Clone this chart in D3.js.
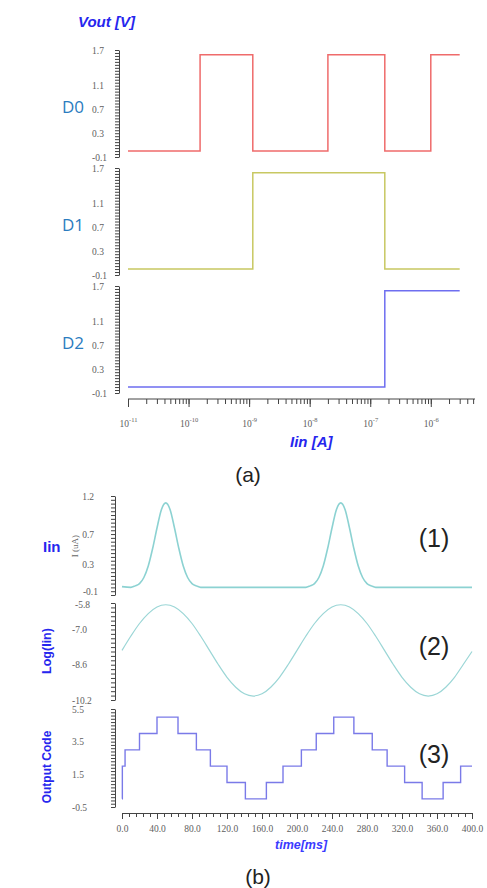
<!DOCTYPE html>
<html>
<head>
<meta charset="utf-8">
<script src="https://cdn.jsdelivr.net/npm/d3@7"></script>
<style>
  body { margin: 0; background: #fff; overflow: hidden; }
  .tick line, .domain { stroke: #444; }
  .tick text { font-family: 'Liberation Serif', serif; font-size: 9.5px; fill: #5e5e5e; }
  .blue-label { font-family: 'Liberation Sans', sans-serif; font-weight: bold; fill: #2626ee; }
  .bit-label { font-family: 'Open Sans', sans-serif; font-size: 17px; fill: #2a7cc0; }
  .caption { font-family: 'Liberation Sans', sans-serif; fill: #222; }
</style>
</head>
<body>
<svg id="chart" width="487" height="888"></svg>
<script>
(function () {
  'use strict';

  // ---- (a) output bits against the input current sweep ----
  // current at each switching point, last one is the end of the sweep
  const sweepCurrent = [1e-11, 1.55e-10, 1.15e-9, 2.0e-8, 1.74e-7, 1.0e-6, 3.0e-6];
  const bitD0 = [0, 1.62, 0, 1.62, 0, 1.62, 1.62];
  const bitD1 = [0, 0, 1.62, 1.62, 0, 0, 0];
  const bitD2 = [0, 0, 0, 0, 1.62, 1.62, 1.62];
  const bitNames = ['D0', 'D1', 'D2'];
  const voltTicks = [1.7, 1.1, 0.7, 0.3, -0.1];
  const decadeExp = [-11, -10, -9, -8, -7, -6];

  // ---- (b) transient, time in ms ----
  const iinTime = [0, 10, 15, 20, 25, 30, 35, 40, 45, 50, 55, 60, 65, 70, 75, 80, 85, 90,
    210, 215, 220, 225, 230, 235, 240, 245, 250, 255, 260, 265, 270, 275, 280, 285, 290, 400];
  const iinValue = [0.01, 0.0, 0.02, 0.05, 0.13, 0.28, 0.51, 0.78, 1.02, 1.11, 1.02, 0.78, 0.51, 0.28, 0.13, 0.05, 0.02, 0.0,
    0.0, 0.02, 0.05, 0.13, 0.28, 0.51, 0.78, 1.02, 1.11, 1.02, 0.78, 0.51, 0.28, 0.13, 0.05, 0.02, 0.0, 0.0];
  const logTime = [0, 10, 20, 30, 40, 50, 60, 70, 80, 90, 100, 110, 120, 130, 140, 150, 160, 170, 180, 190, 200,
    210, 220, 230, 240, 250, 260, 270, 280, 290, 300, 310, 320, 330, 340, 350, 360, 370, 380, 390, 400];
  const logValue = [-7.95, -7.31, -6.73, -6.28, -5.98, -5.88, -5.98, -6.28, -6.73, -7.31, -7.95,
    -8.59, -9.17, -9.62, -9.92, -10.02, -9.92, -9.62, -9.17, -8.59, -7.95,
    -7.31, -6.73, -6.28, -5.98, -5.88, -5.98, -6.28, -6.73, -7.31, -7.95,
    -8.59, -9.17, -9.62, -9.92, -10.02, -9.92, -9.62, -9.17, -8.59, -8.0];
  const codeTime = [0, 0.4, 3.5, 20, 40, 64, 85, 101, 120, 141, 165, 184, 205, 222, 242, 265, 286, 303, 323, 343, 367, 387, 400];
  const codeValue = [0, 2, 3, 4, 5, 4, 3, 2, 1, 0, 1, 2, 3, 4, 5, 4, 3, 2, 1, 0, 1, 2, 2];
  const iinTicks = [1.2, 0.7, 0.3, -0.1];
  const logTicks = [-5.8, -7.0, -8.6, -10.2];
  const codeTicks = [5.5, 3.5, 1.5, -0.5];
  const timeTicks = [0, 40, 80, 120, 160, 200, 240, 280, 320, 360, 400];

  // plain hyphen minus like the original plot
  const fmt1 = (d) => d.toFixed(1);

  const svg = d3.select('#chart');
  svg.append('rect').attr('width', 487).attr('height', 888).attr('fill', '#fff');

  // ================= (a) =================
  const xCur = d3.scaleLog().domain([1e-11, 5.37e-6]).range([128, 475]);
  const bitSeries = [bitD0, bitD1, bitD2];
  const bitColors = ['#ef6b6b', '#c8c862', '#6e6ef0'];
  const bitTops = [50, 168, 286];

  svg.append('text')
    .attr('class', 'blue-label')
    .attr('x', 78).attr('y', 27)
    .style('font-size', '15px').style('font-style', 'italic')
    .text('Vout [V]');

  bitSeries.forEach((values, i) => {
    const top = bitTops[i];
    const y = d3.scaleLinear().domain([-0.1, 1.7]).range([top + 107, top]);

    // ruler style minor ticks
    svg.append('g')
      .attr('transform', 'translate(119,0)')
      .call(d3.axisLeft(y).tickValues(d3.range(-0.1, 1.7001, 0.05)).tickSize(4).tickSizeOuter(0).tickFormat(''));

    const gl = svg.append('g')
      .attr('transform', 'translate(119,0)')
      .call(d3.axisLeft(y).tickValues(voltTicks).tickSize(0).tickFormat(fmt1));
    gl.select('.domain').remove();
    gl.selectAll('text').attr('text-anchor', 'start').attr('x', -27);

    const pts = sweepCurrent.map((c, k) => [c, values[k]]);
    const line = d3.line()
      .x((d) => xCur(d[0]))
      .y((d) => y(d[1]))
      .curve(d3.curveStepAfter);
    svg.append('path')
      .datum(pts)
      .attr('d', line)
      .attr('fill', 'none')
      .attr('stroke', bitColors[i])
      .attr('stroke-width', 1.5);

    svg.append('text')
      .attr('class', 'bit-label')
      .attr('x', 62).attr('y', top + 63)
      .text(bitNames[i]);
  });

  // log current axis
  const gMinor = svg.append('g')
    .attr('transform', 'translate(0,399)')
    .call(d3.axisBottom(xCur).tickValues(xCur.ticks()).tickSize(5).tickSizeOuter(0).tickFormat(''));
  gMinor.select('.domain').attr('d', 'M128,0H475');

  const gMajor = svg.append('g')
    .attr('transform', 'translate(0,399)')
    .call(d3.axisBottom(xCur).tickValues(decadeExp.map((e) => Math.pow(10, e))).tickSize(8).tickSizeOuter(0).tickFormat(''));
  gMajor.select('.domain').remove();
  gMajor.selectAll('.tick').each(function (d, i) {
    const t = d3.select(this).append('text')
      .attr('y', 28).attr('text-anchor', 'middle');
    t.append('tspan').text('10');
    t.append('tspan').attr('dy', -5).style('font-size', '6.5px').text(decadeExp[i]);
  });

  svg.append('text')
    .attr('class', 'blue-label')
    .attr('x', 290).attr('y', 447)
    .style('font-size', '15px').style('font-style', 'italic')
    .text('Iin [A]');

  svg.append('text')
    .attr('class', 'caption')
    .attr('x', 248).attr('y', 482)
    .attr('text-anchor', 'middle')
    .style('font-size', '21px')
    .text('(a)');

  // ================= (b) =================
  const xTime = d3.scaleLinear().domain([0, 400]).range([122, 472]);
  const yIin = d3.scaleLinear().domain([-0.1, 1.2]).range([595, 496]);
  const yLog = d3.scaleLinear().domain([-10.2, -5.8]).range([700, 603]);
  const yCode = d3.scaleLinear().domain([-0.5, 5.5]).range([807, 709]);

  const drawAxis = (y, step, labels, labelX, anchor) => {
    const d = y.domain();
    svg.append('g')
      .attr('transform', 'translate(115,0)')
      .call(d3.axisLeft(y).tickValues(d3.range(d[0], d[1] + 1e-6, step)).tickSize(4).tickSizeOuter(0).tickFormat(''));
    const g = svg.append('g')
      .attr('transform', 'translate(115,0)')
      .call(d3.axisLeft(y).tickValues(labels).tickSize(0).tickFormat(fmt1));
    g.select('.domain').remove();
    g.selectAll('text').attr('text-anchor', anchor).attr('x', labelX);
    return g;
  };
  const gIin = drawAxis(yIin, 0.05, iinTicks, -21, 'end');
  const gLog = drawAxis(yLog, 0.2, logTicks, -43, 'start');
  drawAxis(yCode, 0.2, codeTicks, -43, 'start');

  // the bottom label of (1) sits up and right, the top one of (2) a bit lower, as in the plot
  gIin.selectAll('.tick').filter((d) => d === -0.1).select('text').attr('x', -17).attr('dy', '-0.05em');
  gLog.selectAll('.tick').filter((d) => d === -5.8).select('text').attr('x', -40).attr('dy', '0.45em');

  svg.append('path')
    .datum(iinTime.map((t, k) => [t, iinValue[k]]))
    .attr('d', d3.line().x((d) => xTime(d[0])).y((d) => yIin(d[1])).curve(d3.curveMonotoneX))
    .attr('fill', 'none').attr('stroke', '#8cd2d2').attr('stroke-width', 1.6);

  svg.append('path')
    .datum(logTime.map((t, k) => [t, logValue[k]]))
    .attr('d', d3.line().x((d) => xTime(d[0])).y((d) => yLog(d[1])).curve(d3.curveMonotoneX))
    .attr('fill', 'none').attr('stroke', '#9bd6d6').attr('stroke-width', 1.2);

  svg.append('path')
    .datum(codeTime.map((t, k) => [t, codeValue[k]]))
    .attr('d', d3.line().x((d) => xTime(d[0])).y((d) => yCode(d[1])).curve(d3.curveStepAfter))
    .attr('fill', 'none').attr('stroke', '#7a7ae8').attr('stroke-width', 1.4);

  // time axis
  svg.append('g')
    .attr('transform', 'translate(0,813)')
    .call(d3.axisBottom(xTime).tickValues(d3.range(0, 401, 8)).tickSize(4).tickSizeOuter(0).tickFormat(''));
  svg.append('g')
    .attr('transform', 'translate(0,813)')
    .call(d3.axisBottom(xTime).tickValues(timeTicks).tickSize(6).tickSizeOuter(0).tickPadding(6).tickFormat(fmt1))
    .select('.domain').remove();

  svg.append('text')
    .attr('class', 'blue-label')
    .attr('x', 275).attr('y', 849)
    .style('font-size', '12.5px').style('font-style', 'italic').style('fill', '#3a3aff')
    .text('time[ms]');

  // side labels
  svg.append('text')
    .attr('class', 'blue-label')
    .attr('x', 43).attr('y', 552)
    .style('font-size', '15px')
    .text('Iin');
  svg.append('text')
    .attr('transform', 'translate(78,546) rotate(-90)')
    .attr('text-anchor', 'middle')
    .style('font-family', "'Liberation Serif', serif").style('font-size', '9px').style('fill', '#666')
    .text('I (uA)');
  svg.append('text')
    .attr('class', 'blue-label')
    .attr('transform', 'translate(51,651) rotate(-90)')
    .attr('text-anchor', 'middle')
    .style('font-size', '12.5px')
    .text('Log(Iin)');
  svg.append('text')
    .attr('class', 'blue-label')
    .attr('transform', 'translate(51,767) rotate(-90)')
    .attr('text-anchor', 'middle')
    .style('font-size', '12px')
    .text('Output Code');

  const tags = [['(1)', 547], ['(2)', 655], ['(3)', 763]];
  tags.forEach((tg) => {
    svg.append('text')
      .attr('class', 'caption')
      .attr('x', 434).attr('y', tg[1])
      .attr('text-anchor', 'middle')
      .style('font-size', '25px')
      .text(tg[0]);
  });

  svg.append('text')
    .attr('class', 'caption')
    .attr('x', 258).attr('y', 884)
    .attr('text-anchor', 'middle')
    .style('font-size', '21px')
    .text('(b)');
}());
</script>
</body>
</html>
